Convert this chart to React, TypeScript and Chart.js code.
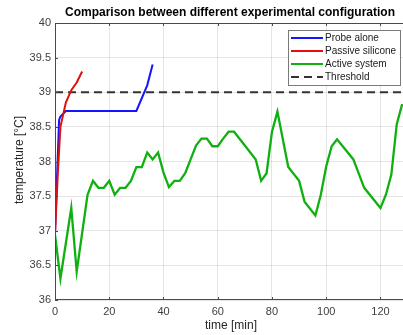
import React, { useEffect, useRef } from "react";
import { Chart, registerables } from "chart.js";

Chart.register(...registerables);

const TITLE = "Comparison between different experimental configuration";
const X_LABEL = "time [min]";
const Y_LABEL = "temperature [°C]";

const probeT = [0, 1.5, 2, 4, 30, 34, 36];
const probeV = [36.95, 38.6, 38.65, 38.73, 38.73, 39.1, 39.4];

const passiveT = [0, 1, 2, 4, 6, 8, 10];
const passiveV = [36.95, 37.8, 38.5, 38.85, 39.03, 39.14, 39.3];

const activeT = [0, 2, 6, 8, 12, 14, 16, 18, 20, 22, 24, 26, 28, 30, 32, 34, 36, 38, 40, 42, 44, 46, 48, 50, 52, 54, 56, 58, 60, 62, 64, 66, 70, 74, 76, 78, 80, 82, 86, 90, 92, 96, 98, 100, 102, 104, 110, 114, 120, 122, 124, 126, 128];
const activeV = [36.94, 36.31, 37.33, 36.41, 37.52, 37.72, 37.62, 37.62, 37.72, 37.52, 37.62, 37.62, 37.72, 37.92, 37.92, 38.13, 38.03, 38.13, 37.84, 37.63, 37.72, 37.72, 37.83, 38.03, 38.23, 38.33, 38.33, 38.22, 38.22, 38.33, 38.43, 38.43, 38.23, 38.03, 37.72, 37.83, 38.43, 38.72, 37.92, 37.72, 37.42, 37.22, 37.52, 37.93, 38.22, 38.32, 38.03, 37.62, 37.33, 37.52, 37.81, 38.54, 38.83];

const thresholdT = [0, 128.3];
const thresholdV = [39, 39];

const LEGEND_LABELS = ["Probe alone", "Passive silicone", "Active system", "Threshold"];

const X_MIN = 0;
const X_MAX = 128.3;
const Y_MIN = 36;
const Y_MAX = 40;

const FONT = "'Liberation Sans', Arial, Helvetica, sans-serif";

const toPts = (t: number[], v: number[]) => t.map((x, i) => ({ x, y: v[i] }));

const overlay = {
  id: "overlay",
  afterDraw(chart: any) {
    const { ctx, chartArea } = chart;
    const { left, right, top, bottom } = chartArea;
    const xs = chart.scales.x;
    const ys = chart.scales.y;
    ctx.save();
    // box
    ctx.strokeStyle = "#4a4a4a";
    ctx.lineWidth = 1;
    ctx.strokeRect(left + 0.5, top + 0.5, right - left + 2, bottom - top - 1);
    // inward ticks
    ctx.beginPath();
    xs.ticks.forEach((t: any) => {
      const px = Math.round(xs.getPixelForValue(t.value)) + 0.5;
      ctx.moveTo(px, bottom);
      ctx.lineTo(px, bottom - 3);
      ctx.moveTo(px, top);
      ctx.lineTo(px, top + 3);
    });
    ys.ticks.forEach((t: any) => {
      const py = Math.round(ys.getPixelForValue(t.value)) + 0.5;
      ctx.moveTo(left, py);
      ctx.lineTo(left + 3, py);
    });
    ctx.stroke();

    // title
    ctx.fillStyle = "#000";
    ctx.font = `bold 12px ${FONT}`;
    ctx.textAlign = "center";
    ctx.textBaseline = "middle";
    ctx.fillText(TITLE, 230, 13);

    // axis labels
    ctx.fillStyle = "#262626";
    ctx.font = `12px ${FONT}`;
    ctx.fillText(X_LABEL, 231, 326);
    ctx.save();
    ctx.translate(20, 160);
    ctx.rotate(-Math.PI / 2);
    ctx.fillText(Y_LABEL, 0, 0);
    ctx.restore();

    // legend
    const bx = 288.5, by = 30.5, bw = 112, bh = 55;
    ctx.fillStyle = "#fff";
    ctx.fillRect(bx, by, bw, bh);
    ctx.strokeStyle = "#7a7a7a";
    ctx.lineWidth = 1;
    ctx.strokeRect(bx, by, bw, bh);
    const ds = chart.data.datasets;
    ctx.font = `10px ${FONT}`;
    ctx.textAlign = "left";
    LEGEND_LABELS.forEach((lab, i) => {
      const yy = 38 + i * 13;
      const d = ds[i];
      ctx.beginPath();
      ctx.strokeStyle = d.borderColor;
      ctx.lineWidth = 2;
      ctx.setLineDash(d.borderDash || []);
      ctx.moveTo(291, yy);
      ctx.lineTo(323, yy);
      ctx.stroke();
      ctx.setLineDash([]);
      ctx.fillStyle = "#1a1a1a";
      ctx.fillText(lab, 325, yy + 0.5);
    });
    ctx.restore();
  },
};

export default function App() {
  const ref = useRef<HTMLCanvasElement>(null);
  useEffect(() => {
    document.body.style.margin = "0";
    const chart = new Chart(ref.current!, {
      type: "line",
      data: {
        datasets: [
          { data: toPts(probeT, probeV), borderColor: "#1414ff", borderWidth: 2, pointRadius: 0, tension: 0, order: 2 },
          { data: toPts(passiveT, passiveV), borderColor: "#e01010", borderWidth: 2, pointRadius: 0, tension: 0, order: 1 },
          { data: toPts(activeT, activeV), borderColor: "#10b010", borderWidth: 2.3, pointRadius: 0, tension: 0, order: 3 },
          { data: toPts(thresholdT, thresholdV), borderColor: "#333333", borderWidth: 2, borderDash: [8, 5], pointRadius: 0, tension: 0, order: 4 },
        ],
      },
      options: {
        animation: false,
        responsive: false,
        maintainAspectRatio: false,
        layout: { padding: { top: 23, right: 0, left: 0, bottom: 0 } },
        plugins: { legend: { display: false }, title: { display: false }, tooltip: { enabled: false } },
        scales: {
          x: {
            type: "linear",
            min: X_MIN,
            max: X_MAX,
            ticks: { stepSize: 20, includeBounds: false, padding: 5, color: "#404040", font: { family: FONT, size: 11 }, maxRotation: 0, callback: (v: any) => String(v) },
            grid: { color: "rgba(0,0,0,0.1)", drawTicks: false },
            border: { display: false },
            afterFit: (s: any) => { s.height = 35; },
          },
          y: {
            type: "linear",
            min: Y_MIN,
            max: Y_MAX,
            ticks: { stepSize: 0.5, padding: 4, color: "#404040", font: { family: FONT, size: 11 }, callback: (v: any) => String(v) },
            grid: { color: "rgba(0,0,0,0.1)", drawTicks: false },
            border: { display: false },
            afterFit: (s: any) => { s.width = 55; },
          },
        },
      } as any,
      plugins: [overlay],
    });
    return () => chart.destroy();
  }, []);
  return (
    <div style={{ width: 403, height: 335 }}>
      <canvas ref={ref} width={403} height={335} style={{ display: "block" }} />
    </div>
  );
}
